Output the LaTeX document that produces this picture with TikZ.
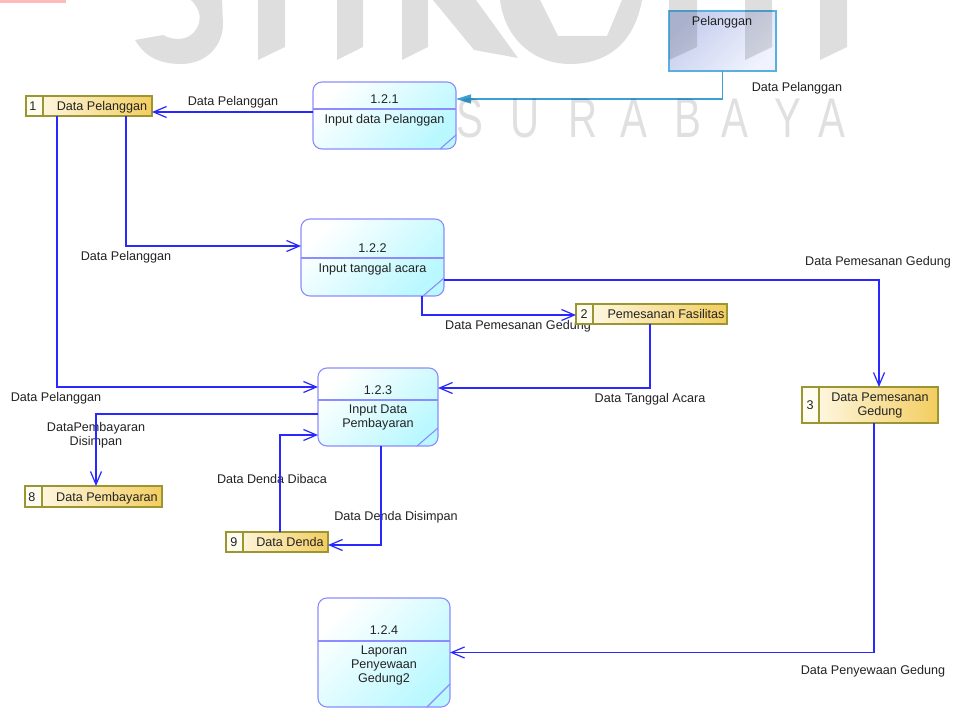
\documentclass[tikz,border=0pt]{standalone}
\usepackage{fontspec}
\setmainfont{Liberation Sans}
\usetikzlibrary{arrows.meta}

\definecolor{flowblue}{RGB}{40,40,255}
\definecolor{extblue}{RGB}{60,160,210}
\definecolor{procedge}{RGB}{140,140,255}
\definecolor{proccyan}{RGB}{185,248,255}
\definecolor{storeedge}{RGB}{155,150,50}
\definecolor{storegold}{RGB}{243,205,95}
\definecolor{storecream}{RGB}{255,252,240}
\definecolor{entedge}{RGB}{90,175,225}
\definecolor{entdark}{RGB}{196,204,236}
\definecolor{entlight}{RGB}{240,243,254}
\definecolor{labeltext}{RGB}{35,35,35}

\tikzset{
  proc/.style={draw=procedge, line width=1.1pt, rounded corners=9pt,
    top color=white, bottom color=proccyan, shading angle=45,
    inner sep=0pt, outer sep=0pt, anchor=north west},
  procline/.style={draw=procedge, line width=1.1pt},
  store/.style={draw=storeedge, line width=1.2pt, left color=storecream,
    right color=storegold, inner sep=0pt, outer sep=0pt, anchor=north west},
  storecell/.style={draw=storeedge, line width=1.2pt, fill=storecream,
    inner sep=0pt, outer sep=0pt, anchor=north west, minimum width=17pt},
  entity/.style={draw=entedge, line width=1.1pt, top color=entdark,
    bottom color=entlight, shading angle=45, inner sep=0pt, outer sep=0pt,
    anchor=north west},
  flow/.style={draw=flowblue, line width=1.3pt,
    -{Straight Barb[length=13pt,width=11pt,line width=1.2pt]}},
  extflow/.style={draw=extblue, line width=1.3pt,
    -{Triangle[length=15pt,width=9pt]}},
  lbl/.style={text=labeltext, inner sep=0pt, anchor=base},
  mtxt/.style={text=labeltext, inner sep=0pt, align=center},
  wm/.style={fill=black, fill opacity=0.13},
  wmtext/.style={text=black, text opacity=0.12, inner sep=0pt, anchor=base,
    text height=40pt, text depth=0pt,
    font=\fontsize{56}{56}\selectfont, xscale=0.72},
}

\begin{document}
\begin{tikzpicture}[x=1pt, y=-1pt, font=\fontsize{12.6}{14}\selectfont]
\useasboundingbox (0,0) rectangle (955,708);
\fill[white] (0,0) rectangle (955,708);

% ---- flow labels (stores are drawn over them) ----
\node[lbl] (l1)  at (797,92)    {Data Pelanggan};
\node[lbl] (l2)  at (233,105.5) {Data Pelanggan};
\node[lbl] (l3)  at (126,260.5) {Data Pelanggan};
\node[lbl] (l4)  at (56,401.5)  {Data Pelanggan};
\node[lbl] (l5)  at (518,329.5) {Data Pemesanan Gedung};
\node[lbl] (l6)  at (878,265.5) {Data Pemesanan Gedung};
\node[lbl] (l7)  at (650,402.5) {Data Tanggal Acara};
\node[mtxt] (l8) at (96,435)    {DataPembayaran\\Disimpan};
\node[lbl] (l9)  at (272,483.5) {Data Denda Dibaca};
\node[lbl] (l10) at (396,520.5) {Data Denda Disimpan};
\node[lbl] (l11) at (873,674.5) {Data Penyewaan Gedung};

% ---- external entity ----
\node[entity, minimum width=107pt, minimum height=60pt] (pel) at (669,11) {};
\node[lbl] (peltxt) at (722,25.5) {Pelanggan};

% ---- processes ----
\node[proc, minimum width=143pt, minimum height=67pt] (p1) at (313,82) {};
\draw[procline] (p1.west |- 0,109) -- (p1.east |- 0,109);
\draw[procline] ([yshift=14pt]p1.south east) -- ([xshift=-16pt]p1.south east);
\node[lbl] (p1num) at (384.5,103.5) {1.2.1};
\node[lbl] (p1txt) at (384.5,123.5) {Input data Pelanggan};

\node[proc, minimum width=143pt, minimum height=77pt] (p2) at (301,219) {};
\draw[procline] (p2.west |- 0,258) -- (p2.east |- 0,258);
\draw[procline] ([yshift=18pt]p2.south east) -- ([xshift=-21pt]p2.south east);
\node[lbl] (p2num) at (372.5,252.5) {1.2.2};
\node[lbl] (p2txt) at (372.5,272.5) {Input tanggal acara};

\node[proc, minimum width=120pt, minimum height=78pt] (p3) at (318,368) {};
\draw[procline] (p3.west |- 0,400) -- (p3.east |- 0,400);
\draw[procline] ([yshift=18pt]p3.south east) -- ([xshift=-21pt]p3.south east);
\node[lbl] (p3num) at (378,394.5) {1.2.3};
\node[mtxt] (p3txt) at (378,417) {Input Data\\Pembayaran};

\node[proc, minimum width=132pt, minimum height=109pt] (p4) at (318,598) {};
\draw[procline] (p4.west |- 0,641) -- (p4.east |- 0,641);
\draw[procline] ([yshift=23pt]p4.south east) -- ([xshift=-23pt]p4.south east);
\node[lbl] (p4num) at (384,634.5) {1.2.4};
\node[mtxt] (p4txt) at (384,665) {Laporan\\Penyewaan\\Gedung2};

% ---- data stores ----
\node[store, minimum width=126pt, minimum height=20pt] (s1) at (26,96) {};
\node[storecell, minimum height=20pt] (s1n) at (26,96) {};
\node[lbl] (s1id) at (33,110.5) {1};
\node[lbl] (s1txt) at (102,110.5) {Data Pelanggan};

\node[store, minimum width=151pt, minimum height=20pt] (s2) at (576,304) {};
\node[storecell, minimum height=20pt] (s2n) at (576,304) {};
\node[lbl] (s2id) at (584,318.5) {2};
\node[lbl] (s2txt) at (666,318.5) {Pemesanan Fasilitas};

\node[store, minimum width=136pt, minimum height=36pt] (s3) at (802,387) {};
\node[storecell, minimum height=36pt] (s3n) at (802,387) {};
\node[lbl] (s3id) at (810,409.5) {3};
\node[mtxt] (s3txt) at (880,405) {Data Pemesanan\\Gedung};

\node[store, minimum width=137pt, minimum height=21pt] (s8) at (25,486) {};
\node[storecell, minimum height=21pt] (s8n) at (25,486) {};
\node[lbl] (s8id) at (32,501) {8};
\node[lbl] (s8txt) at (107,501) {Data Pembayaran};

\node[store, minimum width=102pt, minimum height=20pt] (s9) at (226,532) {};
\node[storecell, minimum height=20pt] (s9n) at (226,532) {};
\node[lbl] (s9id) at (234,546.5) {9};
\node[lbl] (s9txt) at (290,546.5) {Data Denda};

% ---- data flows ----
\draw[extflow] (pel.south) |- ([yshift=16.5pt]p1.east);
\draw[flow] ([yshift=3.5pt]p1.west) -- ([yshift=-6pt]s1.east);
\draw[flow] ([xshift=-26pt]s1.south east) |- ([yshift=11.5pt]p2.west);
\draw[flow] ([xshift=31pt]s1.south west) |- ([yshift=20pt]p3.west);
\draw[flow] ([xshift=49.5pt]p2.south) |- ([yshift=-1pt]s2.west);
\draw[flow] ([yshift=-22.5pt]p2.east) -| ([xshift=9pt]s3.north);
\draw[flow] ([xshift=-1.5pt]s2.south) |- ([yshift=19pt]p3.east);
\draw[flow] ([yshift=-7pt]p3.west) -| ([xshift=2.5pt]s8.north);
\draw[flow] ([xshift=3pt]s9.north) |- ([yshift=-28pt]p3.west);
\draw[flow] ([xshift=3pt]p3.south) |- ([yshift=-3pt]s9.east);
\draw[flow] ([xshift=4pt]s3.south) |- (p4.east);

% ---- watermark ----
\fill[red!45, opacity=0.6] (0,0) rectangle (66,3);
% lower part of the large lettering
\fill[wm] (135,40) .. controls (145,57) and (160,64) .. (181,64)
  .. controls (206,64) and (223,46) .. (223,24) -- (222,0) -- (191,0)
  .. controls (199,8) and (201,16) .. (199,23)
  .. controls (196,33) and (188,39) .. (178,39)
  .. controls (172,39) and (167,37) .. (163,35) -- cycle;
\fill[wm] (258,0) -- (285,0) -- (285,47) -- (258,60) -- cycle;
\fill[wm] (337,0) -- (363,0) -- (363,47) -- (337,60) -- cycle;
\fill[wm] (402,0) -- (428,0) -- (428,47) -- (402,60) -- cycle;
\fill[wm] (433,0) -- (476,0) -- (518,58) -- (474,50) -- cycle;
\fill[wm] (500,0) .. controls (505,40) and (535,64) .. (570,64)
  .. controls (610,64) and (635,40) .. (642,0) -- (622,0) -- (607,36)
  -- (558,36) -- (540,0) -- cycle;
\fill[wm] (669,0) -- (697,0) -- (697,47) -- (669,60) -- cycle;
\fill[wm] (745,0) -- (772,0) -- (772,47) -- (745,60) -- cycle;
\fill[wm] (820,0) -- (847,0) -- (847,47) -- (820,60) -- cycle;
% spaced lettering
\node[wmtext] (wm1) at (470,138) {S};
\node[wmtext] (wm2) at (525,138) {U};
\node[wmtext] (wm3) at (583,138) {R};
\node[wmtext] (wm4) at (634,138) {A};
\node[wmtext] (wm5) at (688,138) {B};
\node[wmtext] (wm6) at (735,138) {A};
\node[wmtext] (wm7) at (788,138) {Y};
\node[wmtext] (wm8) at (832,138) {A};
\end{tikzpicture}
\end{document}
